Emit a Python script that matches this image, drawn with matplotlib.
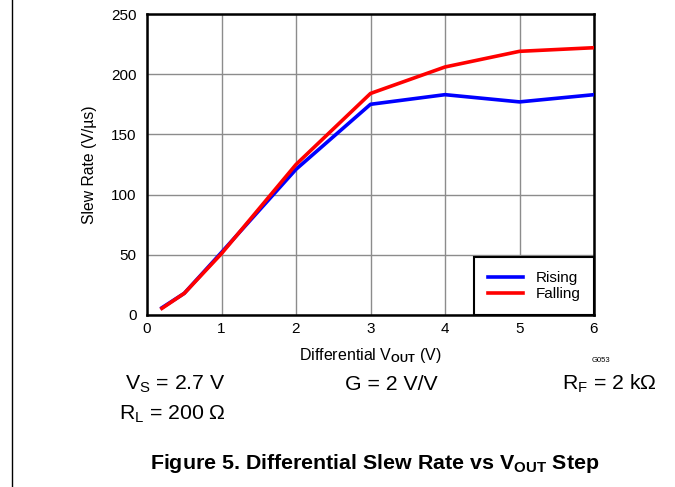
import matplotlib
matplotlib.use("Agg")
import matplotlib.pyplot as plt
from matplotlib.lines import Line2D

plt.rcParams['font.family'] = ['Liberation Sans', 'DejaVu Sans']
plt.rcParams['mathtext.fontset'] = 'custom'
plt.rcParams['mathtext.rm'] = 'Liberation Sans'
plt.rcParams['mathtext.it'] = 'Liberation Sans'
plt.rcParams['mathtext.bf'] = 'Liberation Sans:bold'

# data
vout = [0.2, 0.5, 1, 2, 3, 4, 5, 6]
rising = [6, 18, 52, 121, 175, 183, 177, 183]
falling = [5.5, 18, 51, 125, 184, 206, 219, 222]

xticks = [0, 1, 2, 3, 4, 5, 6]
yticks = [0, 50, 100, 150, 200, 250]

fig = plt.figure(figsize=(6.75, 4.87), dpi=100)
ax = fig.add_axes([147/675, 1 - 315/487, (594-147)/675, (315-14)/487])

ax.plot(vout, rising, color='#0000ff', lw=2.6, label='Rising', zorder=3)
ax.plot(vout, falling, color='#ff0000', lw=2.6, label='Falling', zorder=4)

ax.set_xlim(0, 6)
ax.set_ylim(0, 250)
ax.set_xticks(xticks)
ax.set_yticks(yticks)
ax.tick_params(length=0, labelsize=11, pad=7.5)
ax.tick_params(axis='x', pad=5)
ax.grid(True, color='#8c8c8c', lw=1)
for s in ax.spines.values():
    s.set_linewidth(1.8)

ax.set_xlabel(r'Differential V$_{\mathbf{OUT}}$ (V)', fontsize=11.5, labelpad=7)
ax.set_ylabel('Slew Rate (V/µs)', fontsize=11.3, labelpad=10)

leg = ax.legend(loc='lower right', bbox_to_anchor=(1.0, 0.0), fontsize=11,
                fancybox=False, framealpha=1, edgecolor='black',
                handlelength=2.3, borderpad=0.9, labelspacing=0.15,
                borderaxespad=0)
leg.get_frame().set_linewidth(1.5)

fig.text(601/675, 1 - 361/487, 'G053', fontsize=5.5, ha='center', va='center')
fig.text(226/675, 1 - 390/487, r'V$_{\mathrm{S}}$ = 2.7 V', fontsize=15.3, va='baseline', ha='right')
fig.text(226/675, 1 - 420/487, r'R$_{\mathrm{L}}$ = 200 Ω', fontsize=15.3, va='baseline', ha='right')
fig.text(345/675, 1 - 390/487, 'G = 2 V/V', fontsize=15.3, va='baseline')
fig.text(657/675, 1 - 390/487, r'R$_{\mathrm{F}}$ = 2 kΩ', fontsize=15.3, va='baseline', ha='right')
fig.text(375/675, 1 - 469/487, r'Figure 5. Differential Slew Rate vs V$_{\mathbf{OUT}}$ Step',
         fontsize=15.4, fontweight='bold', ha='center', va='baseline')

fig.add_artist(Line2D([11.5/675, 11.5/675], [0, 1], color='black', lw=1))

fig.savefig('out.png', dpi=100)
